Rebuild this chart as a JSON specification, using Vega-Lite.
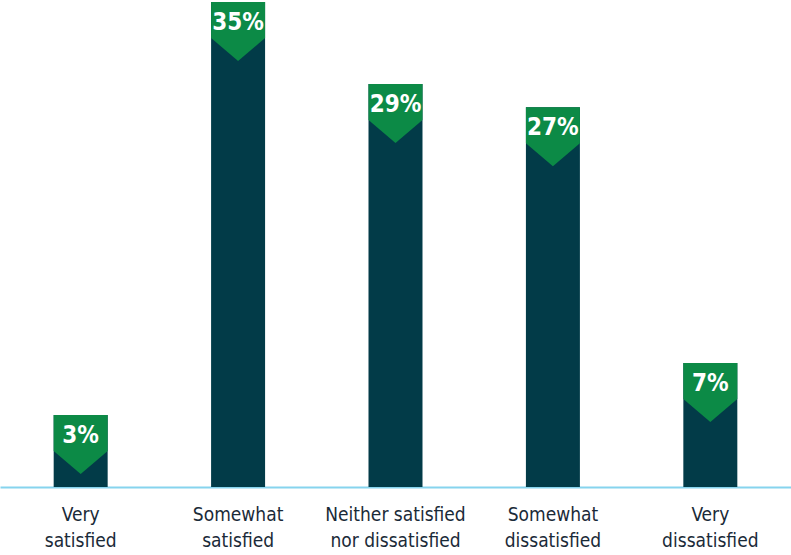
{
  "$schema": "https://vega.github.io/schema/vega-lite/v6.json",
  "width": 791,
  "height": 487,
  "autosize": "none",
  "padding": {"left": 0, "right": 0, "top": 0, "bottom": 68},
  "background": "white",
  "config": {"view": {"stroke": null}},
  "data": {
    "values": [
      {"category": "Very satisfied", "pct": 3, "label": "3%", "bar": 5.2},
      {"category": "Somewhat satisfied", "pct": 35, "label": "35%", "bar": 35},
      {"category": "Neither satisfied nor dissatisfied", "pct": 29, "label": "29%", "bar": 29.08},
      {"category": "Somewhat dissatisfied", "pct": 27, "label": "27%", "bar": 27.4},
      {"category": "Very dissatisfied", "pct": 7, "label": "7%", "bar": 8.95}
    ]
  },
  "encoding": {
    "x": {
      "field": "category",
      "type": "nominal",
      "sort": null,
      "scale": {"paddingInner": 0.657, "paddingOuter": 0.341},
      "axis": {
        "title": null,
        "ticks": false,
        "domainColor": "#86d4ee",
        "domainWidth": 2,
        "labelAngle": 0,
        "labelFont": "DejaVu Sans Condensed, Roboto, sans-serif",
        "labelFontSize": 19,
        "labelColor": "#1a2a38",
        "labelPadding": 18,
        "labelLineHeight": 26,
        "labelBaseline": "top",
        "labelExpr": "datum.value == 'Neither satisfied nor dissatisfied' ? ['Neither satisfied', 'nor dissatisfied'] : split(datum.value, ' ')"
      }
    },
    "y": {
      "field": "bar",
      "type": "quantitative",
      "scale": {"domain": [0, 35.14], "nice": false, "zero": true},
      "axis": null
    }
  },
  "layer": [
    {"mark": {"type": "bar", "color": "#023b48"}},
    {
      "mark": {
        "type": "point",
        "shape": "M-1,0L1,0L1,1.333L0,2.185L-1,1.333Z",
        "size": 2916,
        "filled": true,
        "color": "#0c8a46",
        "opacity": 1,
        "strokeWidth": 0
      }
    },
    {
      "mark": {
        "type": "text",
        "font": "DejaVu Sans Condensed, Roboto, sans-serif",
        "fontWeight": "bold",
        "fontSize": 24,
        "color": "white",
        "baseline": "alphabetic",
        "align": "center",
        "yOffset": 28
      },
      "encoding": {"text": {"field": "label"}}
    }
  ]
}
